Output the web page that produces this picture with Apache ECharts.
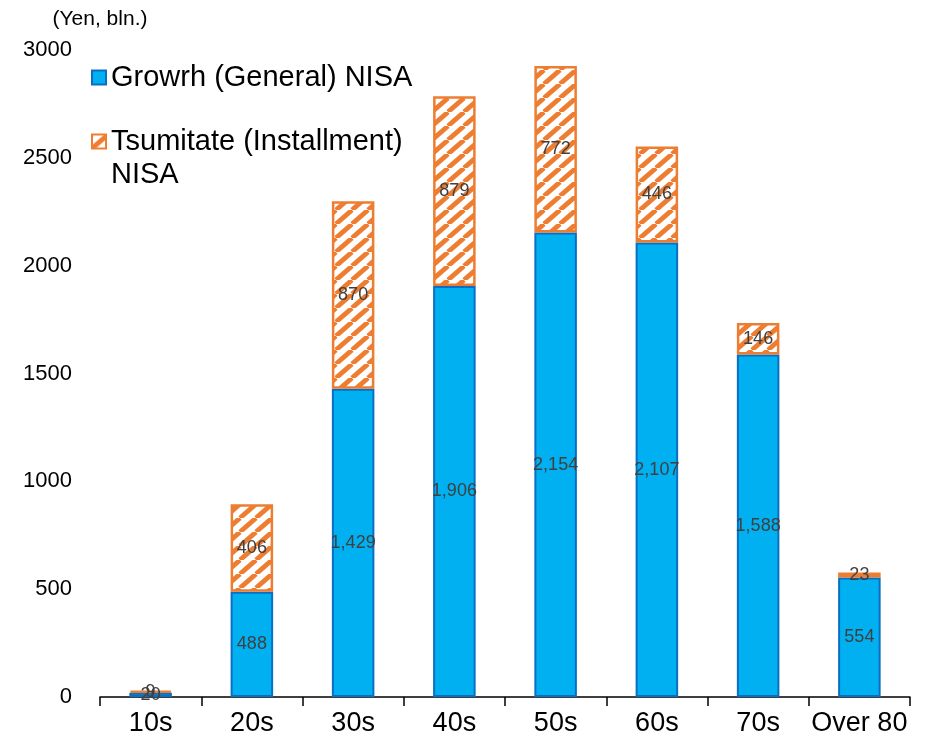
<!DOCTYPE html>
<html><head><meta charset="utf-8">
<script src="https://cdn.jsdelivr.net/npm/echarts@6/dist/echarts.min.js"></script>
<style>html,body{margin:0;padding:0;background:#fff}#c{width:926px;height:743px}</style>
</head><body><div id="c"></div>
<script>
const categories = ['10s','20s','30s','40s','50s','60s','70s','Over 80'];
const growthValues = [20, 488, 1429, 1906, 2154, 2107, 1588, 554];
const tsumitateValues = [9, 406, 870, 879, 772, 446, 146, 23];
const seriesNames = ['Growrh (General) NISA', 'Tsumitate (Installment)\nNISA'];
const unitLabel = '(Yen, bln.)';

function makePattern(){
  const W = 16, H = 14;
  const c = document.createElement('canvas');
  c.width = W; c.height = H;
  const g = c.getContext('2d');
  g.fillStyle = '#fff'; g.fillRect(0,0,W,H);
  g.strokeStyle = '#ED7D31'; g.lineWidth = 4.8;
  for (const o of [-W, 0, W]) {
    g.beginPath(); g.moveTo(o, H); g.lineTo(o + W, 0); g.stroke();
  }
  return c;
}
const fmt = p => Number(p.value).toLocaleString('en-US');
const chart = echarts.init(document.getElementById('c'));
chart.setOption({
  animation: false,
  textStyle: {fontFamily: 'Liberation Sans, Arial, sans-serif'},
  grid: {left: 100, right: 16, top: 50, bottom: 46},
  legend: {
    orient: 'vertical', left: 86, top: 56, itemWidth: 14, itemHeight: 14, itemGap: -2,
    icon: 'rect',
    textStyle: {fontSize: 29, color: '#000', lineHeight: 33},
    formatter: name => name === seriesNames[1] ? ' \n' + name : name,
    data: [seriesNames[0], seriesNames[1]]
  },
  xAxis: {
    type: 'category', data: categories,
    axisLine: {lineStyle: {color: '#000', width: 1.5}},
    axisTick: {show: true, interval: 0, length: 9, lineStyle: {color: '#000', width: 1.5}},
    axisLabel: {color: '#000', fontSize: 27, margin: 13, interval: 0}
  },
  yAxis: {
    type: 'value', min: 0, max: 3000, interval: 500,
    name: unitLabel, nameLocation: 'end', nameGap: 20,
    nameTextStyle: {color: '#000', fontSize: 21, align: 'center'},
    splitLine: {show: false}, axisLine: {show: false}, axisTick: {show: false},
    axisLabel: {color: '#000', fontSize: 22, margin: 28, formatter: v => String(v)}
  },
  series: [
    {
      name: seriesNames[0], type: 'bar', stack: 'a', data: growthValues, barWidth: '42%',
      itemStyle: {color: '#00B0F0', borderColor: '#0A6FC2', borderWidth: 2},
      label: {show: true, position: 'inside', color: '#404040', fontSize: 18, formatter: fmt}
    },
    {
      name: seriesNames[1], type: 'bar', stack: 'a', data: tsumitateValues, barWidth: '42%',
      itemStyle: {color: {image: makePattern(), repeat: 'repeat'}, borderColor: '#ED7D31', borderWidth: 2.5},
      label: {show: true, position: 'inside', color: '#404040', fontSize: 18, formatter: fmt}
    }
  ]
});
</script></body></html>
